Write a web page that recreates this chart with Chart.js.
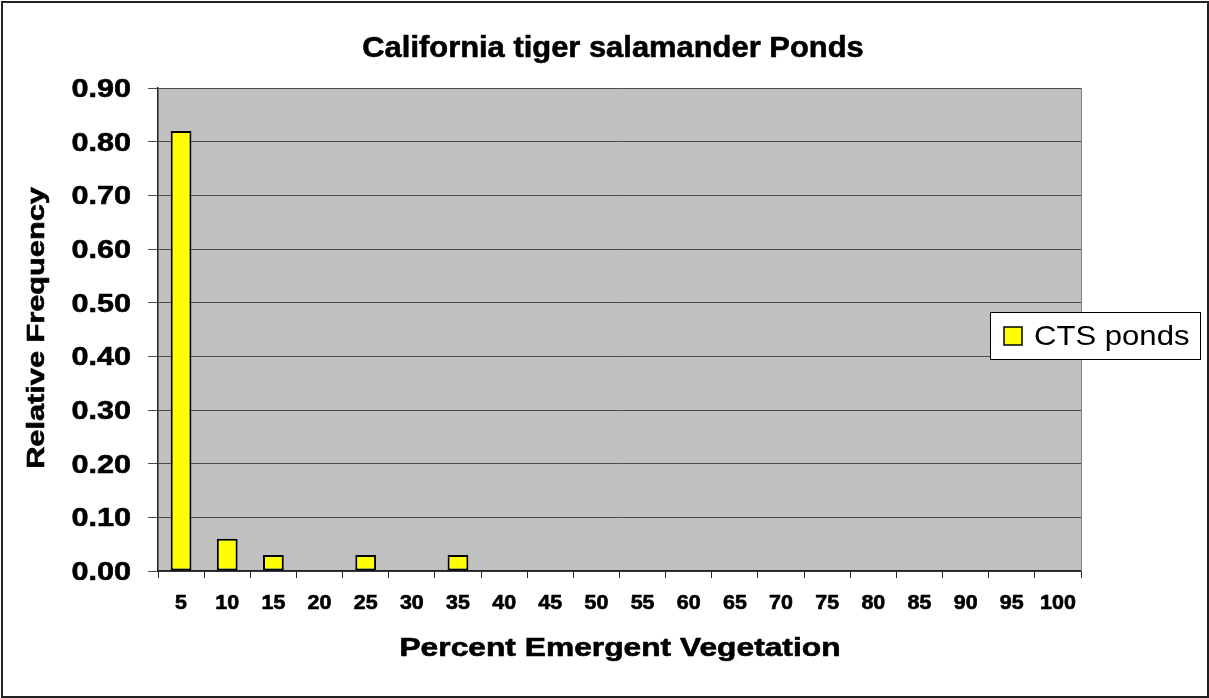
<!DOCTYPE html>
<html>
<head>
<meta charset="utf-8">
<script src="https://cdn.jsdelivr.net/npm/chart.js@4/dist/chart.umd.min.js"></script>
<style>
  html, body { margin: 0; padding: 0; background: #fff; }
  canvas { display: block; }
</style>
</head>
<body>
<canvas id="chart" width="1209" height="698"></canvas>
<script>
// data
const categories = ['5', '10', '15', '20', '25', '30', '35', '40', '45', '50',
                    '55', '60', '65', '70', '75', '80', '85', '90', '95', '100'];
const ctsPonds = [0.82, 0.06, 0.03, 0, 0.03, 0, 0.03, 0, 0, 0,
                  0, 0, 0, 0, 0, 0, 0, 0, 0, 0];
const seriesLabel = 'CTS ponds';
const chartTitle = 'California tiger salamander Ponds';
const xTitle = 'Percent Emergent Vegetation';
const yTitle = 'Relative Frequency';

const FONT = '"Liberation Sans", Arial, sans-serif';

// Excel draws its text a bit wide, so squeeze it through a horizontal scale
function stretchText(ctx, str, x, y, size, weight, sx, align, rot) {
    ctx.save();
    ctx.translate(x, y);
    if (rot) ctx.rotate(rot);
    ctx.scale(sx, 1);
    ctx.font = weight + ' ' + size + 'px ' + FONT;
    ctx.fillStyle = '#000';
    ctx.textAlign = align;
    ctx.textBaseline = 'alphabetic';
    ctx.fillText(str, 0, 0);
    if (weight === 'bold') {
        // a touch heavier, like the original
        ctx.strokeStyle = '#000';
        ctx.lineWidth = 0.6;
        ctx.strokeText(str, 0, 0);
    }
    ctx.restore();
}

const excelLook = {
    id: 'excelLook',
    beforeDraw(chart) {
        const ctx = chart.ctx;
        const a = chart.chartArea;
        ctx.save();
        ctx.fillStyle = '#fff';
        ctx.fillRect(0, 0, chart.width, chart.height);
        ctx.fillStyle = '#c0c0c0';
        ctx.fillRect(a.left, a.top, a.right - a.left, a.bottom - a.top);
        ctx.restore();
    },
    afterDraw(chart) {
        const ctx = chart.ctx;
        const a = chart.chartArea;
        const xs = chart.scales.x;
        const ys = chart.scales.y;

        ctx.save();
        // right edge of the plot area
        ctx.strokeStyle = '#808080';
        ctx.lineWidth = 1;
        ctx.beginPath();
        ctx.moveTo(Math.round(a.right) + 0.5, a.top);
        ctx.lineTo(Math.round(a.right) + 0.5, a.bottom);
        ctx.stroke();
        // outer frame
        ctx.strokeStyle = '#222';
        ctx.lineWidth = 2;
        ctx.strokeRect(2, 2, chart.width - 3, chart.height - 3);
        ctx.restore();

        // y tick labels
        ys.ticks.forEach(t => {
            const y = ys.getPixelForValue(t.value);
            stretchText(ctx, t.value.toFixed(2), 131, y + 9, 25.5, 'bold', 1.2, 'right');
        });
        // x tick labels
        categories.forEach((c, i) => {
            stretchText(ctx, c, xs.getPixelForTick(i), 609, 19.5, 'bold', 1.1, 'center');
        });

        stretchText(ctx, chartTitle, 613, 57, 30, 'bold', 1.03, 'center');
        stretchText(ctx, xTitle, 620, 656, 25, 'bold', 1.27, 'center');
        stretchText(ctx, yTitle, 44, 328, 24, 'bold', 1.28, 'center', -Math.PI / 2);

        // legend box, sits over the plot edge like the original
        ctx.save();
        ctx.fillStyle = '#fff';
        ctx.fillRect(990, 312, 210, 47);
        ctx.strokeStyle = '#000';
        ctx.lineWidth = 1;
        ctx.strokeRect(990.5, 312.5, 210, 47);
        ctx.fillStyle = '#ffff00';
        ctx.fillRect(1004, 327, 18, 18);
        ctx.lineWidth = 1.5;
        ctx.strokeRect(1004, 327, 18, 18);
        ctx.restore();
        stretchText(ctx, seriesLabel, 1034, 345, 28, 'normal', 1.11, 'left');
    }
};

const ctx = document.getElementById('chart').getContext('2d');
new Chart(ctx, {
    type: 'bar',
    data: {
        labels: categories,
        datasets: [{
            label: seriesLabel,
            data: ctsPonds,
            backgroundColor: '#ffff00',
            borderColor: '#000',
            borderWidth: c => (c.raw ? 2 : 0),
            borderSkipped: false,
            categoryPercentage: 1,
            barPercentage: 0.45
        }]
    },
    options: {
        responsive: false,
        animation: false,
        layout: { padding: { left: 0, top: 88, right: 128, bottom: 0 } },
        plugins: {
            legend: { display: false },
            title: { display: false },
            tooltip: { enabled: false }
        },
        scales: {
            x: {
                offset: true,
                ticks: { display: false },
                grid: {
                    offset: true,
                    drawOnChartArea: false,
                    drawTicks: true,
                    tickLength: 7,
                    color: '#222'
                },
                border: { color: '#222', width: 1.5 },
                afterFit(scale) { scale.height = 127; }
            },
            y: {
                min: 0,
                max: 0.9,
                ticks: { display: false, stepSize: 0.1 },
                grid: {
                    color: '#4a4a4a',
                    tickLength: 10,
                    drawTicks: true
                },
                border: { color: '#222', width: 1.5 },
                afterFit(scale) { scale.width = 158; }
            }
        }
    },
    plugins: [excelLook]
});
</script>
</body>
</html>
